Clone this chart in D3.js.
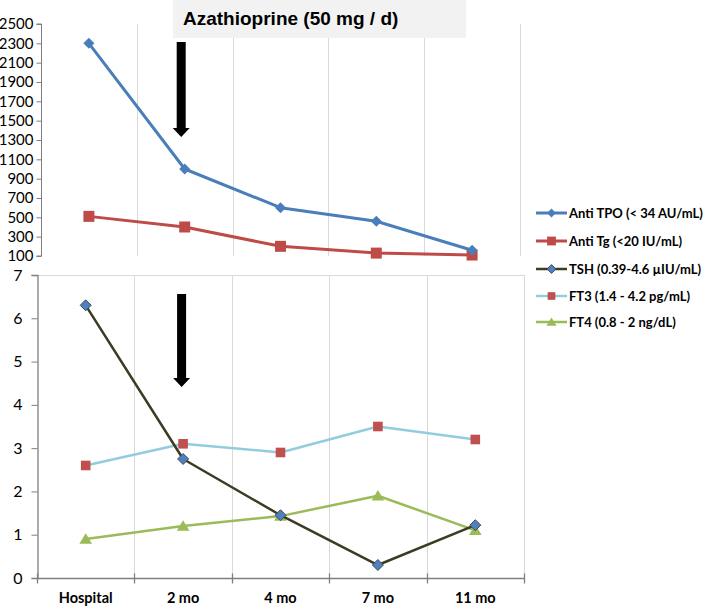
<!DOCTYPE html>
<html><head><meta charset="utf-8">
<script src="https://cdn.jsdelivr.net/npm/d3@7"></script>
<style>body{margin:0;background:#fff}svg{display:block}</style>
</head><body>
<svg id="c" width="709" height="609"></svg>
<script>
const categories = ["Hospital","2 mo","4 mo","7 mo","11 mo"];
const antiTPO = [2300,1000,600,460,160];
const antiTg = [510,400,200,130,110];
const tsh = [6.3,2.75,1.45,0.3,1.22];
const ft3 = [2.6,3.1,2.9,3.5,3.2];
const ft4 = [0.9,1.2,1.43,1.9,1.1];
const topTicks = [100,300,500,700,900,1100,1300,1500,1700,1900,2100,2300,2500];
const bottomTicks = [0,1,2,3,4,5,6,7];
const title = "Azathioprine (50 mg / d)";
const arrowCategory = "2 mo";

const svg = d3.select("#c");
const font = "Lato, 'Open Sans', sans-serif";
const grid = "#d9d9d9", axisCol = "#7f7f7f";

const xTop = d3.scaleBand().domain(categories).range([41,520]);
const yTop = d3.scaleLinear().domain([100,2500]).range([256,24]);
const xBot = d3.scaleBand().domain(categories).range([37,524]);
const yBot = d3.scaleLinear().domain([0,7]).range([578,275]);

const gTop = svg.append("g");
categories.forEach(c=>{
  const x = Math.round(xTop(c)+xTop.bandwidth())+0.5;
  gTop.append("line").attr("x1",x).attr("x2",x).attr("y1",yTop(2500)).attr("y2",yTop(100)).attr("stroke",grid);
});
const gBot = svg.append("g");
categories.forEach(c=>{
  const x = Math.round(xBot(c)+xBot.bandwidth())+0.5;
  gBot.append("line").attr("x1",x).attr("x2",x).attr("y1",yBot(7)).attr("y2",yBot(0)).attr("stroke",grid);
});
gBot.append("line").attr("x1",xBot.range()[0]).attr("x2",xBot.range()[1]).attr("y1",Math.round(yBot(7))+0.5).attr("y2",Math.round(yBot(7))+0.5).attr("stroke",grid);

svg.append("rect").attr("x",173).attr("y",0).attr("width",293).attr("height",38).attr("fill","#f2f2f2");
svg.append("text").attr("x",183).attr("y",25).attr("font-family","'Liberation Sans', Arial, sans-serif")
  .attr("font-weight","bold").attr("font-size",19).attr("fill","#000").text(title);

const axTop = svg.append("g").attr("transform","translate(41.5,0)")
  .call(d3.axisLeft(yTop).tickValues(topTicks).tickSize(5).tickPadding(3).tickFormat(d3.format("d")));
axTop.select(".domain").attr("stroke",axisCol).attr("d",`M-5,${yTop(2500)}H0V${yTop(100)}H-5`);
axTop.selectAll(".tick line").attr("stroke",axisCol);
axTop.selectAll(".tick text").attr("font-family",font).attr("font-size",15).attr("fill","#000");

const axBotY = svg.append("g").attr("transform","translate(37.5,0)")
  .call(d3.axisLeft(yBot).tickValues(bottomTicks).tickSize(6).tickPadding(9).tickFormat(d3.format("d")));
axBotY.select(".domain").attr("stroke",axisCol).attr("stroke-width",1.3);
axBotY.selectAll(".tick line").attr("stroke",axisCol);
axBotY.selectAll(".tick text").attr("font-family",font).attr("font-size",16).attr("fill","#000");

const axBotX = svg.append("g").attr("transform",`translate(0,${Math.round(yBot(0))+0.5})`);
axBotX.append("line").attr("x1",xBot.range()[0]).attr("x2",xBot.range()[1]).attr("stroke",axisCol).attr("stroke-width",1.3);
const bounds = [xBot(categories[0])].concat(categories.map(c=>xBot(c)+xBot.bandwidth()));
bounds.forEach(b=>{
  const x = Math.round(b)+0.5;
  axBotX.append("line").attr("x1",x).attr("x2",x).attr("y1",-5).attr("y2",5).attr("stroke",axisCol).attr("stroke-width",1.3);
});
categories.forEach(c=>{
  axBotX.append("text").attr("x",xBot(c)+xBot.bandwidth()/2).attr("y",24).attr("text-anchor","middle")
    .attr("font-family",font).attr("font-weight","bold").attr("font-size",14.5).attr("fill","#000").text(c);
});

function arrow(x, y0, y1) {
  const sw = 4.5, hw = 8.5, hh = 9;
  svg.append("path").attr("d",
    `M${x-sw},${y0}H${x+sw}V${y1-hh}H${x+hw}L${x},${y1}L${x-hw},${y1-hh}H${x-sw}Z`).attr("fill","#000");
}
arrow(xTop(arrowCategory)+xTop.bandwidth()/2-3.5, 42, 137);
arrow(xBot(arrowCategory)+xBot.bandwidth()/2-1.5, 294, 387);

function markerPath(type, r) {
  if (type==="diamond") return `M0,${-r}L${r},0L0,${r}L${-r},0Z`;
  if (type==="square") return `M${-r},${-r}H${r}V${r}H${-r}Z`;
  return `M0,${-r*1.05}L${r*1.15},${r*0.85}H${-r*1.15}Z`;
}
function series(vals, x, y, it) {
  const line = d3.line().x((d,i)=>x(categories[i])+x.bandwidth()/2).y(d=>y(d));
  svg.append("path").datum(vals).attr("d",line).attr("fill","none").attr("stroke",it.line).attr("stroke-width",it.lw).attr("stroke-linejoin","round");
  svg.append("g").selectAll("path").data(vals).join("path")
    .attr("transform",(d,i)=>`translate(${x(categories[i])+x.bandwidth()/2},${y(d)})`)
    .attr("d",markerPath(it.marker,it.r)).attr("fill",it.fill).attr("stroke",it.stroke).attr("stroke-width",it.stroke==="none"?0:1);
}
const legendItems = [
  {name:"Anti TPO (< 34 AU/mL)", line:"#4a7ebb", lw:3, marker:"diamond", fill:"#4a7ebb", stroke:"none", r:5.5},
  {name:"Anti Tg (<20 IU/mL)", line:"#be4b48", lw:3, marker:"square", fill:"#be4b48", stroke:"none", r:5.5},
  {name:"TSH (0.39-4.6 µIU/mL)", line:"#3d3b22", lw:2.5, marker:"diamond", fill:"#4f81bd", stroke:"#3d4a5c", r:5.5},
  {name:"FT3 (1.4 - 4.2 pg/mL)", line:"#93cddd", lw:2.5, marker:"square", fill:"#c0504d", stroke:"none", r:4.8},
  {name:"FT4 (0.8 - 2 ng/dL)", line:"#9bbb59", lw:2.5, marker:"triangle", fill:"#9bbb59", stroke:"none", r:5.5}
];
series(antiTg, xTop, yTop, legendItems[1]);
series(antiTPO, xTop, yTop, legendItems[0]);
series(ft4, xBot, yBot, legendItems[4]);
series(ft3, xBot, yBot, legendItems[3]);
series(tsh, xBot, yBot, legendItems[2]);

const legendY = [213,241,269,296,322];
const lg = svg.append("g");
legendItems.forEach((it,i)=>{
  const y = legendY[i];
  lg.append("line").attr("x1",536).attr("x2",567).attr("y1",y).attr("y2",y).attr("stroke",it.line).attr("stroke-width",it.lw);
  lg.append("path").attr("transform",`translate(551.5,${y})`).attr("d",markerPath(it.marker,it.r*0.8))
    .attr("fill",it.fill).attr("stroke",it.stroke).attr("stroke-width",it.stroke==="none"?0:1);
  lg.append("text").attr("x",569).attr("y",y+4.5).attr("font-family",font).attr("font-weight","bold")
    .attr("font-size",13).attr("fill","#000").text(it.name);
});
</script>
</body></html>
